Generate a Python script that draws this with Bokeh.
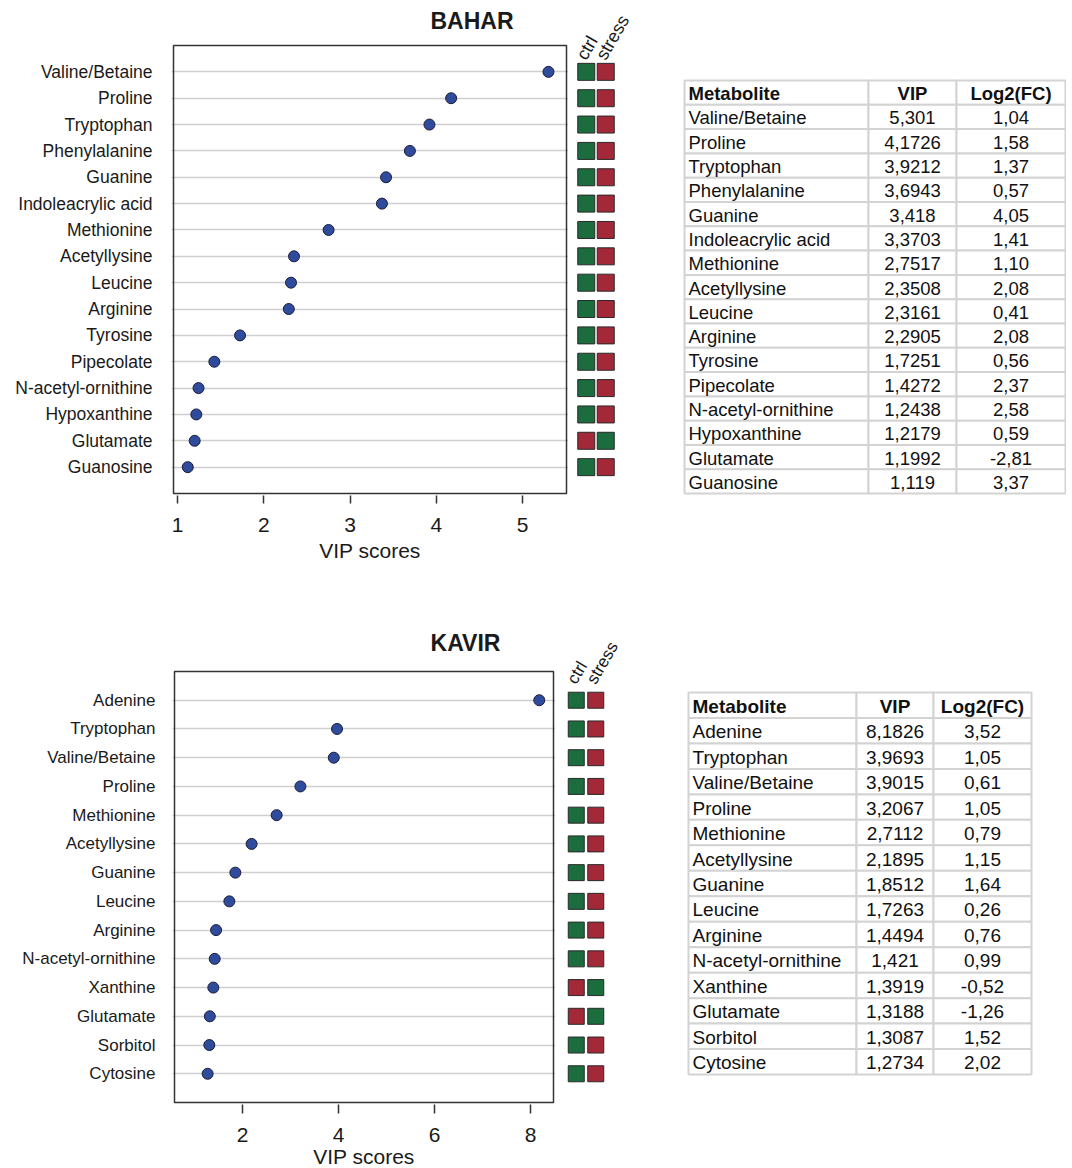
from bokeh.plotting import figure
from bokeh.models import Range1d, FixedTicker, ColumnDataSource
from bokeh.layouts import row, column
from bokeh.embed import file_html
from bokeh.resources import INLINE
from bokeh.core.properties import value

FONT = "Liberation Sans"
GREEN = "#1b6d3e"
RED = "#a32838"
DOT_FILL = "#2e4b9c"
GRID = "#cfcfcf"
CELL_LINE = "#d3d3d3"
INK = "#1a1a1a"

# ---------------- data ----------------
bahar_metabolites = ["Valine/Betaine", "Proline", "Tryptophan", "Phenylalanine", "Guanine",
                     "Indoleacrylic acid", "Methionine", "Acetyllysine", "Leucine", "Arginine",
                     "Tyrosine", "Pipecolate", "N-acetyl-ornithine", "Hypoxanthine", "Glutamate",
                     "Guanosine"]
bahar_vip = [5.301, 4.1726, 3.9212, 3.6943, 3.418, 3.3703, 2.7517, 2.3508, 2.3161, 2.2905,
             1.7251, 1.4272, 1.2438, 1.2179, 1.1992, 1.119]
bahar_log2fc = [1.04, 1.58, 1.37, 0.57, 4.05, 1.41, 1.10, 2.08, 0.41, 2.08, 0.56, 2.37, 2.58,
                0.59, -2.81, 3.37]
bahar_xticks = [1, 2, 3, 4, 5]

kavir_metabolites = ["Adenine", "Tryptophan", "Valine/Betaine", "Proline", "Methionine",
                     "Acetyllysine", "Guanine", "Leucine", "Arginine", "N-acetyl-ornithine",
                     "Xanthine", "Glutamate", "Sorbitol", "Cytosine"]
kavir_vip = [8.1826, 3.9693, 3.9015, 3.2067, 2.7112, 2.1895, 1.8512, 1.7263, 1.4494, 1.421,
             1.3919, 1.3188, 1.3087, 1.2734]
kavir_log2fc = [3.52, 1.05, 0.61, 1.05, 0.79, 1.15, 1.64, 0.26, 0.76, 0.99, -0.52, -1.26,
                1.52, 2.02]
kavir_xticks = [2, 4, 6, 8]

groups = ["ctrl", "stress"]
table_header = ["Metabolite", "VIP", "Log2(FC)"]


class Panel:
    """Pixel layout of one half (page pixel coordinates)."""

    def __init__(self, n, xa, xb, box, frame, row_top, row_bottom_pad):
        self.n = n
        self.kx = (xb[1] - xa[1]) / (xb[0] - xa[0])
        self.xa = xa
        self.box = box
        self.frame = frame
        self.row_top = row_top
        self.pad = row_bottom_pad
        self.ky = (box[3] - box[1]) / (n + 1)
        self.y0 = box[1] + self.ky

    def xv(self, px):
        return self.xa[0] + (px - self.xa[1]) / self.kx

    def yv(self, py):
        return (py - self.y0) / self.ky


def dot_panel(names, vips, P, xticks, title, title_px, ylab_size, label_standoff,
              tick_out, axis_standoff):
    n = len(names)
    idx = list(range(n))
    L, T, R, B = P.frame
    p = figure(frame_width=R - L, frame_height=B - T,
               x_range=Range1d(P.xv(L), P.xv(R)), y_range=Range1d(P.yv(B), P.yv(T)),
               min_border_left=L, min_border_right=0,
               min_border_top=T - P.row_top, min_border_bottom=P.pad,
               output_backend="svg", toolbar_location=None)
    p.background_fill_color = "white"
    p.border_fill_color = "white"
    p.outline_line_color = None
    p.xgrid.visible = False
    yt = FixedTicker(ticks=idx)
    p.yaxis.ticker = yt
    p.ygrid.ticker = yt
    p.ygrid.grid_line_color = GRID
    p.ygrid.grid_line_width = 1.5
    p.yaxis.major_label_overrides = {i: nm for i, nm in zip(idx, names)}
    p.yaxis.axis_line_color = None
    p.yaxis.major_tick_line_color = None
    p.yaxis.major_tick_out = 0
    p.yaxis.major_tick_in = 0
    p.yaxis.minor_tick_line_color = None
    p.yaxis.major_label_standoff = label_standoff
    p.yaxis.major_label_text_font = FONT
    p.yaxis.major_label_text_font_size = ylab_size
    p.yaxis.major_label_text_color = INK

    p.xaxis.ticker = FixedTicker(ticks=xticks)
    p.xaxis.axis_line_color = None
    p.xaxis.minor_tick_line_color = None
    p.xaxis.major_tick_line_color = "#333333"
    p.xaxis.major_tick_line_width = 1.5
    p.xaxis.major_tick_in = 0
    p.xaxis.major_tick_out = tick_out
    p.xaxis.major_label_standoff = 14
    p.xaxis.major_label_text_font = FONT
    p.xaxis.major_label_text_font_size = "21px"
    p.xaxis.major_label_text_color = INK
    p.xaxis.axis_label = "VIP scores"
    p.xaxis.axis_label_text_font = FONT
    p.xaxis.axis_label_text_font_size = "21px"
    p.xaxis.axis_label_text_font_style = "normal"
    p.xaxis.axis_label_text_color = INK
    p.xaxis.axis_label_standoff = axis_standoff

    bl, bt, br, bb = P.box
    p.quad(left=[P.xv(bl)], right=[P.xv(br)], top=[P.yv(bt)], bottom=[P.yv(bb)],
           fill_color=None, line_color="#333333", line_width=1.5)

    src = ColumnDataSource(dict(vip=vips, y=idx))
    p.scatter("vip", "y", source=src, size=11, fill_color=DOT_FILL,
              line_color="#1c1c3a", line_width=1)
    p.text(x=[P.xv(title_px[0])], y=[P.yv(title_px[1])], text=[title], text_font=value(FONT),
           text_font_size="23px", text_font_style="bold", text_color=INK,
           text_align="center", text_baseline="alphabetic")
    return p


def heat_panel(p_dot, P, log2fc, sq_left, page_right, sq, label_size, label_gap):
    L, T, R, B = P.frame
    pitch = 19.5                      # px between the two square columns
    left = R                          # heat frame starts where the dot frame ends
    w = page_right - left
    x_start = -0.5 - (sq_left - left) / pitch
    h = figure(frame_width=w, frame_height=B - T,
               x_range=Range1d(x_start, x_start + w / pitch),
               y_range=p_dot.y_range, min_border_left=0, min_border_right=0,
               min_border_top=T - P.row_top, min_border_bottom=P.pad,
               x_axis_location=None, y_axis_location=None,
               output_backend="svg", toolbar_location=None)
    h.outline_line_color = None
    h.grid.visible = False
    h.border_fill_color = "white"
    xs, ys, cols = [], [], []
    for i, v in enumerate(log2fc):
        up = v > 0
        xs += [0, 1]
        ys += [i, i]
        cols += [GREEN if up else RED, RED if up else GREEN]
    h.rect(x=xs, y=ys, width=sq, height=sq, width_units="screen", height_units="screen",
           fill_color=cols, line_color="#2a2a2a", line_width=1)
    lab_x = [gi + 3.5 / pitch for gi in range(len(groups))]
    lab_y = [-(sq / 2 + label_gap) / P.ky] * len(groups)
    h.text(x=lab_x, y=lab_y, text=groups, text_font=value(FONT), text_font_size=label_size,
           text_color=INK, angle=60, angle_units="deg", text_align="left",
           text_baseline="bottom")
    return h


def table_panel(names, vips, log2fc, P, page_left, page_right, tbl_left, tbl_top, colw, rowh,
                fsize):
    L, T, R, B = P.frame
    w = page_right - page_left
    fh = B - T
    t = figure(frame_width=w, frame_height=fh, x_range=Range1d(0, w), y_range=Range1d(fh, 0),
               min_border_left=0, min_border_right=0,
               min_border_top=T - P.row_top, min_border_bottom=P.pad,
               x_axis_location=None, y_axis_location=None,
               output_backend="svg", toolbar_location=None)
    t.outline_line_color = None
    t.grid.visible = False
    t.border_fill_color = "white"
    x0 = tbl_left - page_left
    y0 = tbl_top - T
    rows = [table_header] + [[nm, str(v).replace(".", ","), f"{f:.2f}".replace(".", ",")]
                             for nm, v, f in zip(names, vips, log2fc)]
    edges = [x0]
    for c in colw:
        edges.append(edges[-1] + c)
    cx, cy, cw = [], [], []
    for r in range(len(rows)):
        for c in range(3):
            cx.append((edges[c] + edges[c + 1]) / 2)
            cy.append(y0 + rowh * (r + 0.5))
            cw.append(colw[c])
    t.rect(x=cx, y=cy, width=cw, height=rowh, fill_color="white",
           line_color=CELL_LINE, line_width=2)
    for r, vals in enumerate(rows):
        yy = y0 + rowh * (r + 0.5) + 1
        style = "bold" if r == 0 else "normal"
        t.text(x=[edges[0] + 4], y=[yy], text=[vals[0]], text_font=value(FONT),
               text_font_size=fsize, text_font_style=style, text_align="left",
               text_baseline="middle", text_color="#111111")
        t.text(x=[(edges[1] + edges[2]) / 2, (edges[2] + edges[3]) / 2], y=[yy, yy],
               text=[vals[1], vals[2]], text_font=value(FONT), text_font_size=fsize,
               text_font_style=style, text_align="center", text_baseline="middle",
               text_color="#111111")
    return t


# ---------------- BAHAR (top half) ----------------
PA = Panel(len(bahar_metabolites), (1, 177), (5, 522), box=(173, 45, 566, 493),
           frame=(171, 3, 568, 495), row_top=0, row_bottom_pad=101)
pA = dot_panel(bahar_metabolites, bahar_vip, PA, bahar_xticks, "BAHAR", (471.5, 20),
               "17.5px", 19, 8, 4)
hA = heat_panel(pA, PA, bahar_log2fc, 576, 656, 17, "18px", 0)
tA = table_panel(bahar_metabolites, bahar_vip, bahar_log2fc, PA, 656, 1066, 684, 80,
                 [184, 88, 109], 24.3, "18.5px")

# ---------------- KAVIR (bottom half) ----------------
PB = Panel(len(kavir_metabolites), (2, 242), (8, 530), box=(174, 671, 553, 1102),
           frame=(172, 628, 555, 1104), row_top=596, row_bottom_pad=62)
pB = dot_panel(kavir_metabolites, kavir_vip, PB, kavir_xticks, "KAVIR", (465, 642),
               "17px", 17, 9, 0)
hB = heat_panel(pB, PB, kavir_log2fc, 566, 646, 16, "17px", 5)
tB = table_panel(kavir_metabolites, kavir_vip, kavir_log2fc, PB, 646, 1064, 688, 692,
                 [168, 77, 98], 25.47, "19px")

layout = column(row(pA, hA, tA), row(pB, hB, tB))

open("out.html", "w").write(file_html(layout, INLINE))
